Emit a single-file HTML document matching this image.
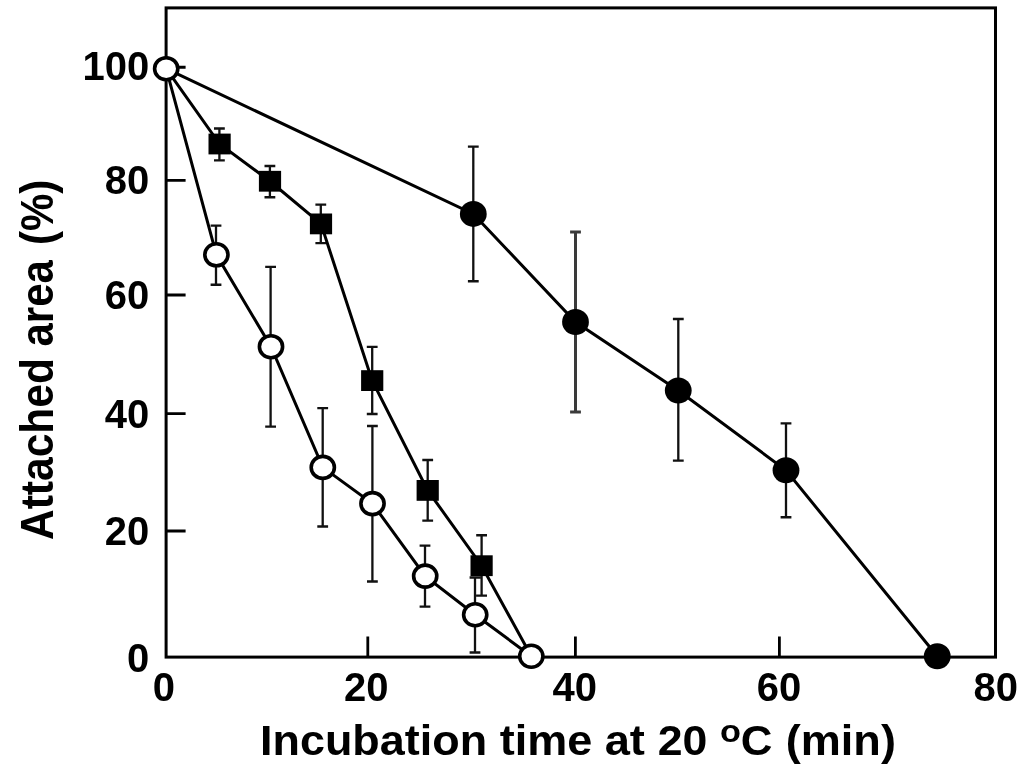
<!DOCTYPE html>
<html lang="en"><head><meta charset="utf-8"><title>Attached area vs incubation time</title>
<style>html,body{margin:0;padding:0;background:#fff}svg{display:block;filter:blur(0.5px)}text{font-family:"Liberation Sans",Arial,Helvetica,sans-serif;font-weight:bold;fill:#000}</style>
</head><body>
<svg width="1024" height="772" viewBox="0 0 1024 772">
<rect width="1024" height="772" fill="#fff"/>
<g fill="none" stroke="#000" stroke-linecap="butt" stroke-linejoin="miter">
<rect x="166.1" y="7.9" width="829.4" height="649.2" stroke-width="3"/>
<path d="M166.1 67.25H185.6M166.1 180.3H185.6M166.1 295.0H185.6M166.1 413.6H185.6M166.1 531.0H185.6M367.8 657.1V636.5M575.4 657.1V636.5M779.4 657.1V636.5" stroke-width="2.8"/>
<path d="M216.0 225.6V284.75M210.6 225.6H221.4M210.6 284.75H221.4M270.6 266.9V426.6M265.2 266.9H276M265.2 426.6H276M322.7 408.1V526.5M317.3 408.1H328.1M317.3 526.5H328.1M372.4 426V581.5M367 426H377.8M367 581.5H377.8M425 545.6V606.6M419.6 545.6H430.4M419.6 606.6H430.4M475 577.5V652.5M469.6 577.5H480.4M469.6 652.5H480.4M219.4 128.5V160.4M214 128.5H224.8M214 160.4H224.8M269.9 166V197.25M264.5 166H275.3M264.5 197.25H275.3M320.8 204.6V243.1M315.4 204.6H326.2M315.4 243.1H326.2M372.2 346.9V414M366.8 346.9H377.6M366.8 414H377.6M427.7 460V520.6M422.3 460H433.1M422.3 520.6H433.1M481.6 535.25V595.6M476.2 535.25H487M476.2 595.6H487M473.3 146.6V281.25M467.9 146.6H478.7M467.9 281.25H478.7M678.3 319V460.6M672.9 319H683.7M672.9 460.6H683.7M786 423.4V517.25M780.6 423.4H791.4M780.6 517.25H791.4" stroke-width="2.3" stroke="#111"/>
<path d="M575.5 231.9V411.9M570.1 231.9H580.9M570.1 411.9H580.9" stroke-width="3" stroke="#3a3a3a"/>
<polyline points="166.2,68.7 473.3,213.9 575.5,322 678.25,390.5 786,470.3 937.25,656.25" stroke-width="3"/>
<polyline points="166.2,68.7 219.6,144 270,181.25 321,223.9 372.2,380.6 427.7,490.4 481.6,565.7 531.3,656.25" stroke-width="3"/>
<polyline points="166.2,68.7 216.4,254.8 271,346.7 322.8,467.4 372.5,503.6 425.2,576.1 475.2,614.75 531.3,656.25" stroke-width="3"/>
</g>
<g fill="#000">
<ellipse cx="473.3" cy="213.9" rx="13.4" ry="13"/>
<ellipse cx="575.5" cy="322" rx="13.4" ry="13"/>
<ellipse cx="678.25" cy="390.5" rx="13.4" ry="13"/>
<ellipse cx="786" cy="470.3" rx="13.4" ry="13"/>
<ellipse cx="937.25" cy="656.25" rx="13.4" ry="13"/>
<rect x="208.5" y="133.6" width="22.2" height="20.8"/>
<rect x="258.9" y="170.85" width="22.2" height="20.8"/>
<rect x="309.9" y="213.5" width="22.2" height="20.8"/>
<rect x="361.1" y="370.2" width="22.2" height="20.8"/>
<rect x="416.6" y="480" width="22.2" height="20.8"/>
<rect x="470.5" y="555.3" width="22.2" height="20.8"/>
</g>
<g fill="#fff" stroke="#000" stroke-width="3.6">
<ellipse cx="166.2" cy="68.7" rx="11.6" ry="11"/>
<ellipse cx="216.4" cy="254.8" rx="11.6" ry="11"/>
<ellipse cx="271" cy="346.7" rx="11.6" ry="11"/>
<ellipse cx="322.8" cy="467.4" rx="11.6" ry="11"/>
<ellipse cx="372.5" cy="503.6" rx="11.6" ry="11"/>
<ellipse cx="425.2" cy="576.1" rx="11.6" ry="11"/>
<ellipse cx="475.2" cy="614.75" rx="11.6" ry="11"/>
<ellipse cx="531.3" cy="656.25" rx="11.6" ry="11"/>
</g>
<g font-size="40" text-anchor="end">
<text x="149.2" y="80.4">100</text>
<text x="149.2" y="193.7">80</text>
<text x="149.2" y="308.7">60</text>
<text x="149.2" y="428.1">40</text>
<text x="149.2" y="545.05">20</text>
<text x="149.2" y="671.6">0</text>
</g>
<g font-size="40" text-anchor="middle">
<text x="163.75" y="701.2">0</text>
<text x="366.2" y="701.2">20</text>
<text x="574.7" y="701.2">40</text>
<text x="779" y="701.2">60</text>
<text x="995.7" y="701.2">80</text>
</g>
<g id="xtitle">
<text transform="translate(259.98 754.6) scale(1.0453 1)" font-size="43">Incubation</text>
<text transform="translate(499.80 754.6) scale(1.0474 1)" font-size="43">time</text>
<text transform="translate(604.64 754.6) scale(1.0534 1)" font-size="43">at</text>
<text transform="translate(657.76 754.6) scale(1.0382 1)" font-size="43">20</text>
<text transform="translate(720.05 741.6) scale(1.1051 1)" font-size="31">o</text>
<text transform="translate(740.74 754.6) scale(1.0208 1)" font-size="43">C</text>
<text transform="translate(785.75 754.6) scale(1.0487 1)" font-size="43">(min)</text>
</g>
<g id="ytitle">
<text transform="translate(53.2 540.06) rotate(-90) scale(0.9989 1.1)" font-size="42.6">Attached</text>
<text transform="translate(53.2 346.51) rotate(-90) scale(0.9851 1.1)" font-size="42.6">area</text>
<text transform="translate(53.2 245.10) rotate(-90) scale(0.9872 1.1)" font-size="42.6">(%)</text>
</g>
</svg></body></html>
